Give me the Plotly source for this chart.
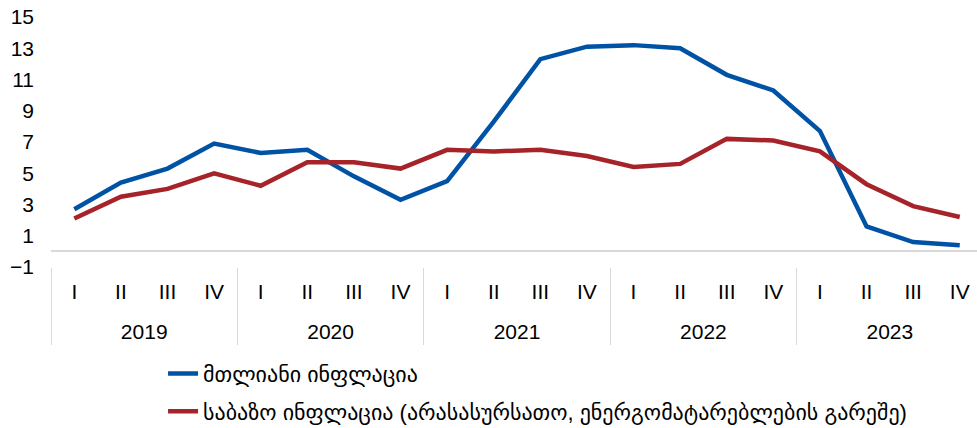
import plotly.graph_objects as go

years = ["2019", "2020", "2021", "2022", "2023"]
quarters = ["I", "II", "III", "IV"]

headline = [2.7, 4.4, 5.3, 6.9,
            6.3, 6.5, 4.8, 3.3,
            4.5, 8.3, 12.3, 13.1,
            13.2, 13.0, 11.3, 10.3,
            7.7, 1.6, 0.6, 0.4]
core = [2.1, 3.5, 4.0, 5.0,
        4.2, 5.7, 5.7, 5.3,
        6.5, 6.4, 6.5, 6.1,
        5.4, 5.6, 7.2, 7.1,
        6.4, 4.3, 2.9, 2.2]

name_headline = "მთლიანი ინფლაცია"
name_core = "საბაზო ინფლაცია (არასასურსათო, ენერგომატარებლების გარეშე)"

nq = len(quarters)
idx = list(range(len(years) * nq))
q_labels = [quarters[i % nq] for i in idx]
year_centers = [k * nq + (nq - 1) / 2 for k in range(len(years))]
boundaries = [k * nq - 0.5 for k in range(len(years) + 1)]

FONT = "Liberation Sans, Arial, DejaVu Sans, sans-serif"
XR = [-0.5, 19.37]
GRID = "#d9d9d9"

fig = go.Figure()
fig.add_trace(go.Scatter(x=idx, y=headline, mode="lines",
                         name=name_headline, legendgroup="a",
                         line=dict(color="#0052A5", width=4.5)))
fig.add_trace(go.Scatter(x=idx, y=core, mode="lines", xaxis="x2",
                         name=name_core, legendgroup="b",
                         line=dict(color="#A52329", width=4.5)))

fig.update_layout(
    width=977, height=428,
    margin=dict(l=51, r=0, t=17, b=0, autoexpand=False),
    paper_bgcolor="white", plot_bgcolor="white",
    font=dict(family=FONT, size=21, color="#000000"),
    showlegend=True,
    legend=dict(x=0.121, y=0.183, xanchor="left", yanchor="top",
                orientation="v", traceorder="grouped", tracegroupgap=6,
                font=dict(size=22), bgcolor="rgba(0,0,0,0)"),
    xaxis=dict(range=XR, tickvals=idx, ticktext=q_labels, ticks="",
               ticklabelstandoff=10,
               minor=dict(tickmode="array", tickvals=boundaries,
                          ticks="outside", ticklen=77, tickwidth=1,
                          tickcolor=GRID, showgrid=False),
               showgrid=False, zeroline=False, showline=False,
               automargin=False),
    xaxis2=dict(range=XR, overlaying="x", anchor="free", position=0.2697,
                tickvals=year_centers, ticktext=years, ticks="",
                showgrid=False, zeroline=False, showline=False,
                automargin=False),
    yaxis=dict(domain=[0.3917, 1], range=[-1, 15],
               tickvals=list(range(-1, 16, 2)), showgrid=False,
               zeroline=True, zerolinecolor=GRID, zerolinewidth=2,
               showline=False, ticks="", ticklabelstandoff=16,
               automargin=False),
)

fig.write_html("out.html", config={"displayModeBar": False},
               post_script="document.body.style.margin='0';")
